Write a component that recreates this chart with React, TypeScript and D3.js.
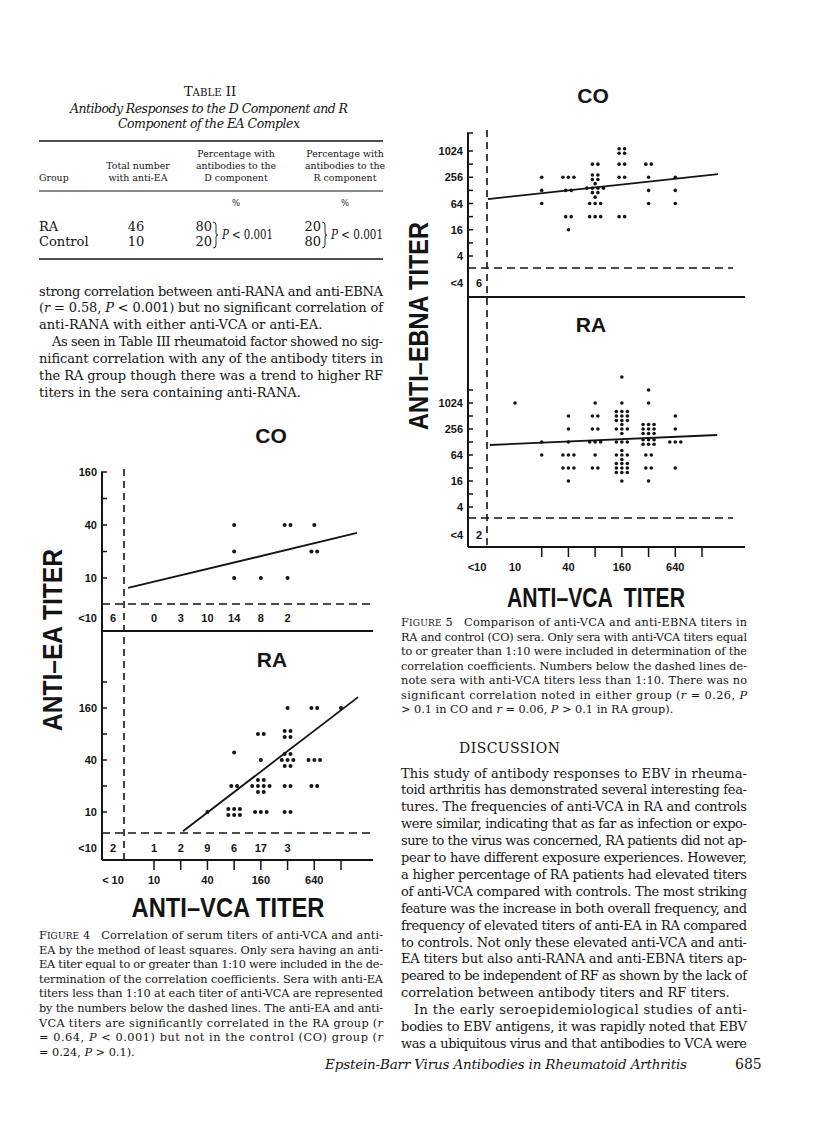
import React from "react";
import * as d3 from "d3";

type Group = [number, number, number[]];

// ================= DATA =================
// Table II
const tableGroups = ["RA", "Control"];
const tableTotals = [46, 10];
const tableDPct = [80, 20];
const tableRPct = [20, 80];

// Figure 4: anti-VCA (x) vs anti-EA (y)
const vcaTicks4 = [10, 20, 40, 80, 160, 320, 640, 1280];
const vcaTicks5 = [20, 40, 80, 160, 320, 640, 1280];
const vcaLabels = [10, 40, 160, 640];
const eaTicksCo = [10, 20, 40, 80, 160];
const eaTicksRa = [10, 20, 40, 80, 160, 320];
const eaLabels = [10, 40, 160];

// [anti-VCA titer, anti-EA titer, dots per row (top to bottom)]
const fig4Co: Group[] = [
  [80, 40, [1]], [80, 20, [1]], [80, 10, [1]],
  [160, 10, [1]],
  [320, 40, [2]], [320, 10, [1]],
  [640, 40, [1]], [640, 20, [2]],
];
const fig4Ra: Group[] = [
  [40, 10, [1]],
  [80, 49, [1]], [80, 20, [2]], [80, 10, [3, 3]],
  [160, 80, [2]], [160, 40, [1]], [160, 20, [2, 4, 2]], [160, 10, [3]],
  [320, 160, [1]], [320, 80, [2, 2]], [320, 40, [2, 3, 2]], [320, 20, [2]], [320, 10, [2]],
  [640, 160, [2]], [640, 40, [3]], [640, 20, [2]],
  [1280, 160, [1]],
];
const belowVca4: (number | null)[] = [null, 10, 20, 40, 80, 160, 320];
const fig4CoBelow = [6, 0, 3, 10, 14, 8, 2];
const fig4RaBelow = [2, 1, 2, 9, 6, 17, 3];
const fig4CoFit: [number, number][] = [[5.1, 7.7], [1940, 32.5]];
const fig4RaFit: [number, number][] = [[21.2, 6.0], [1995, 214]];

// Figure 5: anti-VCA (x) vs anti-EBNA (y)
const ebnaTicksCo = [4, 8, 16, 32, 64, 128, 256, 512, 1024];
const ebnaTicksRa = [4, 8, 16, 32, 64, 128, 256, 512, 1024, 2048];
const ebnaLabels = [4, 16, 64, 256, 1024];
const fig5Co: Group[] = [
  [20, 256, [1]], [20, 128, [1]], [20, 64, [1]],
  [40, 256, [3]], [40, 128, [2]], [40, 32, [2]], [40, 16, [1]],
  [80, 512, [2]], [80, 256, [2, 2]], [80, 128, [1, 4, 2, 1]], [80, 64, [3]], [80, 32, [3]],
  [160, 1024, [2, 2]], [160, 512, [2]], [160, 256, [2]], [160, 32, [2]],
  [320, 512, [2]], [320, 256, [1]], [320, 128, [1]], [320, 64, [1]],
  [640, 256, [1]], [640, 128, [1]], [640, 64, [1]],
];
const fig5Ra: Group[] = [
  [10, 1024, [1]],
  [20, 128, [1]], [20, 64, [1]],
  [40, 512, [1]], [40, 256, [1]], [40, 128, [1]], [40, 64, [3]], [40, 32, [3]], [40, 16, [1]],
  [80, 1024, [1]], [80, 512, [2]], [80, 256, [2]], [80, 128, [3]], [80, 64, [1]], [80, 32, [2]],
  [160, 4096, [1]], [160, 1024, [1]], [160, 512, [3, 3, 3]], [160, 256, [1, 3, 1]], [160, 128, [3]],
  [160, 64, [1, 3, 1]], [160, 32, [3, 3, 3]], [160, 16, [1]],
  [320, 2048, [1]], [320, 1024, [1]], [320, 256, [3, 3, 3]], [320, 128, [3, 3]], [320, 64, [2]],
  [320, 32, [2]], [320, 16, [1]],
  [640, 512, [1]], [640, 256, [1]], [640, 128, [3]], [640, 32, [1]],
];
const fig5CoBelow = 6;
const fig5RaBelow = 2;
const fig5CoFit: [number, number][] = [[4.96, 81], [1940, 303]];
const fig5RaFit: [number, number][] = [[5.2, 109], [1900, 186]];

// Text ("¶" = paragraph indent, "|" = last line of paragraph, *..* italic, ~..~ small caps)
const leftBody = [
  "strong correlation between anti-RANA and anti-EBNA",
  "(*r* = 0.58, *P* < 0.001) but no significant correlation of",
  "anti-RANA with either anti-VCA or anti-EA.|",
  "¶As seen in Table III rheumatoid factor showed no sig-",
  "nificant correlation with any of the antibody titers in",
  "the RA group though there was a trend to higher RF",
  "titers in the sera containing anti-RANA.|",
];
const fig4Caption = [
  "F~IGURE~ 4   Correlation of serum titers of anti-VCA and anti-",
  "EA by the method of least squares. Only sera having an anti-",
  "EA titer equal to or greater than 1:10 were included in the de-",
  "termination of the correlation coefficients. Sera with anti-EA",
  "titers less than 1:10 at each titer of anti-VCA are represented",
  "by the numbers below the dashed lines. The anti-EA and anti-",
  "VCA titers are significantly correlated in the RA group (*r*",
  "= 0.64, *P* < 0.001) but not in the control (CO) group (*r*",
  "= 0.24, *P* > 0.1).|",
];
const fig5Caption = [
  "F~IGURE~ 5   Comparison of anti-VCA and anti-EBNA titers in",
  "RA and control (CO) sera. Only sera with anti-VCA titers equal",
  "to or greater than 1:10 were included in determination of the",
  "correlation coefficients. Numbers below the dashed lines de-",
  "note sera with anti-VCA titers less than 1:10. There was no",
  "significant correlation noted in either group (*r* = 0.26, *P*",
  "> 0.1 in CO and *r* = 0.06, *P* > 0.1 in RA group).|",
];
const discussion = [
  "This study of antibody responses to EBV in rheuma-",
  "toid arthritis has demonstrated several interesting fea-",
  "tures. The frequencies of anti-VCA in RA and controls",
  "were similar, indicating that as far as infection or expo-",
  "sure to the virus was concerned, RA patients did not ap-",
  "pear to have different exposure experiences. However,",
  "a higher percentage of RA patients had elevated titers",
  "of anti-VCA compared with controls. The most striking",
  "feature was the increase in both overall frequency, and",
  "frequency of elevated titers of anti-EA in RA compared",
  "to controls. Not only these elevated anti-VCA and anti-",
  "EA titers but also anti-RANA and anti-EBNA titers ap-",
  "peared to be independent of RF as shown by the lack of",
  "correlation between antibody titers and RF titers.|",
  "¶In the early seroepidemiological studies of anti-",
  "bodies to EBV antigens, it was rapidly noted that EBV",
  "was a ubiquitous virus and that antibodies to VCA were",
];

// ================= STYLE =================
const INK = "#141414";
const SERIF = "'DejaVu Serif', serif";
const SANS = "'Liberation Sans', Arial, sans-serif";

// ================= HELPERS =================
function RichText({ x, y, text, size, width, anchor }: any) {
  const parts: { t: string; it: boolean; sc: boolean }[] = [];
  let it = false, sc = false, buf = "";
  const flush = () => { if (buf) parts.push({ t: buf, it, sc }); buf = ""; };
  for (const ch of text) {
    if (ch === "*") { flush(); it = !it; }
    else if (ch === "~") { flush(); sc = !sc; }
    else buf += ch;
  }
  flush();
  return (
    <text x={x} y={y} fontSize={size} fontFamily={SERIF} fill={INK} textAnchor={anchor}
      textLength={width} lengthAdjust={width ? "spacing" : undefined} style={{ whiteSpace: "pre" }}>
      {parts.map((p, i) => (
        <tspan key={i} fontStyle={p.it ? "italic" : "normal"} fontSize={p.sc ? size * 0.8 : size}>{p.t}</tspan>
      ))}
    </text>
  );
}

function Block({ lines, x, y, lh, width, size, indent = 13 }: any) {
  return (
    <g>
      {lines.map((ln: string, i: number) => {
        let s = ln, dx = 0, just = true;
        if (s.startsWith("¶")) { s = s.slice(1); dx = indent; }
        if (s.endsWith("|")) { s = s.slice(0, -1); just = false; }
        return <RichText key={i} x={x + dx} y={y + i * lh} text={s} size={size} width={just ? width - dx : undefined} />;
      })}
    </g>
  );
}

function Dots({ groups, xs, ys, r, dx, dy }: any) {
  const out: any[] = [];
  groups.forEach(([vx, vy, rows]: Group, gi: number) => {
    const cx = xs(vx), cy = ys(vy);
    rows.forEach((n, ri) => {
      const yy = cy + (ri - (rows.length - 1) / 2) * dy;
      for (let j = 0; j < n; j++) {
        const xx = cx + (j - (n - 1) / 2) * dx;
        out.push(<circle key={`${gi}-${ri}-${j}`} cx={xx} cy={yy} r={r} />);
      }
    });
  });
  return <g fill={INK}>{out}</g>;
}

function Fit({ pts, xs, ys }: any) {
  const line = d3.line<[number, number]>().x((d) => xs(d[0])).y((d) => ys(d[1]));
  return <path d={line(pts) || ""} fill="none" stroke={INK} strokeWidth={1.8} />;
}

function Brace({ x, y1, y2 }: any) {
  const m = (y1 + y2) / 2;
  const d = `M${x} ${y1} Q${x + 3} ${y1} ${x + 3} ${y1 + 3} L${x + 3} ${m - 2} Q${x + 3} ${m} ${x + 5} ${m} Q${x + 3} ${m} ${x + 3} ${m + 2} L${x + 3} ${y2 - 3} Q${x + 3} ${y2} ${x} ${y2}`;
  return <path d={d} fill="none" stroke={INK} strokeWidth={0.9} />;
}

// ================= TABLE =================
function Table() {
  const hdr = 9.4;
  return (
    <g fill={INK} fontFamily={SERIF}>
      <text x={210} y={96} textAnchor="middle" fontSize={13}>T<tspan fontSize={10.2}>ABLE</tspan> II</text>
      <text x={209} y={113} textAnchor="middle" fontSize={12.5} fontStyle="italic" textLength={278} lengthAdjust="spacing">
        Antibody Responses to the D Component and R
      </text>
      <text x={209} y={128} textAnchor="middle" fontSize={12.5} fontStyle="italic" textLength={182} lengthAdjust="spacing">
        Component of the EA Complex
      </text>
      <line x1={39} x2={383} y1={141} y2={141} stroke={INK} strokeWidth={1.4} />
      <text x={39} y={181} fontSize={hdr}>Group</text>
      <text x={138} y={169} fontSize={hdr} textAnchor="middle">Total number</text>
      <text x={138} y={181} fontSize={hdr} textAnchor="middle">with anti-EA</text>
      {[["D", 236], ["R", 345]].map(([c, cx]: any) => (
        <g key={c}>
          <text x={cx} y={157} fontSize={hdr} textAnchor="middle">Percentage with</text>
          <text x={cx} y={169} fontSize={hdr} textAnchor="middle">antibodies to the</text>
          <text x={cx} y={181} fontSize={hdr} textAnchor="middle">{c} component</text>
          <text x={cx} y={206} fontSize={8.5} textAnchor="middle">%</text>
        </g>
      ))}
      <line x1={39} x2={383} y1={191} y2={191} stroke={INK} strokeWidth={1.2} />
      {tableGroups.map((g, i) => {
        const y = 231 + i * 15;
        return (
          <g key={g} fontSize={13}>
            <text x={39} y={y}>{g}</text>
            <text x={136} y={y} textAnchor="middle">{tableTotals[i]}</text>
            <text x={212} y={y} textAnchor="end">{tableDPct[i]}</text>
            <text x={321} y={y} textAnchor="end">{tableRPct[i]}</text>
          </g>
        );
      })}
      <Brace x={213} y1={222} y2={248} />
      <Brace x={322} y1={222} y2={248} />
      <text x={222} y={239} fontSize={13} textLength={51} lengthAdjust="spacingAndGlyphs"><tspan fontStyle="italic">P</tspan> &lt; 0.001</text>
      <text x={331} y={239} fontSize={13} textLength={52} lengthAdjust="spacingAndGlyphs"><tspan fontStyle="italic">P</tspan> &lt; 0.001</text>
      <line x1={39} x2={383} y1={259} y2={259} stroke={INK} strokeWidth={1.4} />
    </g>
  );
}

// ================= FIGURE 4 =================
function Figure4() {
  const L = { axisX: 102, cutX: 124, lessX: 113, right: 373, coTop: 472, coDash: 604, coBelowY: 618,
    sep: 631, raDash: 833, raBelowY: 848, axisY: 860, labelRight: 97 };
  const xs = d3.scaleLog().base(2).domain([10, 1280]).range([154, 341]);
  const yCo = d3.scaleLog().base(2).domain([10, 160]).range([578, 472]);
  const yRa = d3.scaleLog().base(2).domain([10, 160]).range([812, 708]);
  const bx = (v: number | null) => (v === null ? L.lessX : xs(v));
  const tick = { stroke: INK, strokeWidth: 1.5 };
  return (
    <g>
      <line x1={L.axisX} x2={L.axisX} y1={L.coTop} y2={L.axisY} stroke={INK} strokeWidth={2} />
      <line x1={L.axisX} x2={L.right} y1={L.axisY} y2={L.axisY} stroke={INK} strokeWidth={2} />
      <line x1={L.axisX} x2={L.right} y1={L.sep} y2={L.sep} stroke={INK} strokeWidth={1.8} />
      <line x1={L.cutX} x2={L.cutX} y1={L.coTop - 3} y2={L.axisY} stroke={INK} strokeWidth={1.6} strokeDasharray="7 5" />
      <line x1={L.axisX} x2={L.right} y1={L.coDash} y2={L.coDash} stroke={INK} strokeWidth={1.5} strokeDasharray="8 5" />
      <line x1={L.axisX} x2={L.right} y1={L.raDash} y2={L.raDash} stroke={INK} strokeWidth={1.5} strokeDasharray="8 5" />
      {eaTicksCo.map((t) => <line key={"c" + t} x1={L.axisX - 1} x2={L.axisX + 5} y1={yCo(t)} y2={yCo(t)} {...tick} />)}
      {eaTicksRa.map((t) => <line key={"r" + t} x1={L.axisX - 1} x2={L.axisX + 5} y1={yRa(t)} y2={yRa(t)} {...tick} />)}
      {vcaTicks4.map((t) => <line key={"x" + t} x1={xs(t)} x2={xs(t)} y1={L.axisY} y2={L.axisY + 10} {...tick} />)}
      <g fontFamily={SANS} fontWeight="bold" fontSize={11} fill={INK}>
        {eaLabels.map((t) => <text key={"cl" + t} x={L.labelRight} y={yCo(t) + 4} textAnchor="end">{t}</text>)}
        {eaLabels.map((t) => <text key={"rl" + t} x={L.labelRight} y={yRa(t) + 4} textAnchor="end">{t}</text>)}
        <text x={L.labelRight} y={L.coBelowY + 4} textAnchor="end">&lt;10</text>
        <text x={L.labelRight} y={L.raBelowY + 4} textAnchor="end">&lt;10</text>
        {belowVca4.map((v, i) => <text key={"cb" + i} x={bx(v)} y={L.coBelowY + 4} textAnchor="middle">{fig4CoBelow[i]}</text>)}
        {belowVca4.map((v, i) => <text key={"rb" + i} x={bx(v)} y={L.raBelowY + 4} textAnchor="middle">{fig4RaBelow[i]}</text>)}
        <text x={L.lessX} y={884} textAnchor="middle">&lt; 10</text>
        {vcaLabels.map((t) => <text key={"xl" + t} x={xs(t)} y={884} textAnchor="middle">{t}</text>)}
      </g>
      <g fontFamily={SANS} fontWeight="bold" fill={INK}>
        <text x={271} y={443} fontSize={21} textAnchor="middle">CO</text>
        <text x={272} y={667} fontSize={21} textAnchor="middle">RA</text>
        <text x={228} y={917} fontSize={27} textAnchor="middle" textLength={193} lengthAdjust="spacingAndGlyphs">ANTI–VCA TITER</text>
        <text transform="translate(62,640) rotate(-90)" fontSize={27} textAnchor="middle" textLength={182} lengthAdjust="spacingAndGlyphs">ANTI–EA TITER</text>
      </g>
      <Fit pts={fig4CoFit} xs={xs} ys={yCo} />
      <Fit pts={fig4RaFit} xs={xs} ys={yRa} />
      <Dots groups={fig4Co} xs={xs} ys={yCo} r={2} dx={5.8} dy={6} />
      <Dots groups={fig4Ra} xs={xs} ys={yRa} r={2} dx={5.8} dy={6} />
    </g>
  );
}

// ================= FIGURE 5 =================
function Figure5() {
  const L = { axisX: 468, cutX: 487, lessX: 479, right: 745, top: 133, coDash: 268, coBelowY: 283,
    sep: 297, raDash: 518, raBelowY: 535, axisY: 547, labelRight: 463 };
  const xs = d3.scaleLog().base(2).domain([10, 1280]).range([515, 702]);
  const yCo = d3.scaleLog().base(2).domain([4, 1024]).range([256, 151]);
  const yRa = d3.scaleLog().base(2).domain([4, 1024]).range([507, 403]);
  const tick = { stroke: INK, strokeWidth: 1.5 };
  return (
    <g>
      <line x1={L.axisX} x2={L.axisX} y1={L.top} y2={L.axisY} stroke={INK} strokeWidth={2} />
      <line x1={L.axisX - 1} x2={L.axisX + 5} y1={L.top} y2={L.top} {...tick} />
      <line x1={L.axisX} x2={L.right} y1={L.axisY} y2={L.axisY} stroke={INK} strokeWidth={2} />
      <line x1={L.axisX} x2={L.right} y1={L.sep} y2={L.sep} stroke={INK} strokeWidth={1.8} />
      <line x1={L.cutX} x2={L.cutX} y1={L.top - 3} y2={L.axisY} stroke={INK} strokeWidth={1.6} strokeDasharray="7 5" />
      <line x1={L.axisX} x2={L.right - 12} y1={L.coDash} y2={L.coDash} stroke={INK} strokeWidth={1.5} strokeDasharray="8 5" />
      <line x1={L.axisX} x2={L.right - 12} y1={L.raDash} y2={L.raDash} stroke={INK} strokeWidth={1.5} strokeDasharray="8 5" />
      {ebnaTicksCo.map((t) => <line key={"c" + t} x1={L.axisX - 1} x2={L.axisX + 5} y1={yCo(t)} y2={yCo(t)} {...tick} />)}
      {ebnaTicksRa.map((t) => <line key={"r" + t} x1={L.axisX - 1} x2={L.axisX + 5} y1={yRa(t)} y2={yRa(t)} {...tick} />)}
      {vcaTicks5.map((t) => <line key={"x" + t} x1={xs(t)} x2={xs(t)} y1={L.axisY} y2={L.axisY + 10} {...tick} />)}
      <g fontFamily={SANS} fontWeight="bold" fontSize={11} fill={INK}>
        {ebnaLabels.map((t) => <text key={"cl" + t} x={L.labelRight} y={yCo(t) + 4} textAnchor="end">{t}</text>)}
        {ebnaLabels.map((t) => <text key={"rl" + t} x={L.labelRight} y={yRa(t) + 4} textAnchor="end">{t}</text>)}
        <text x={L.labelRight} y={L.coBelowY + 4} textAnchor="end">&lt;4</text>
        <text x={L.labelRight} y={L.raBelowY + 4} textAnchor="end">&lt;4</text>
        <text x={L.lessX} y={L.coBelowY + 4} textAnchor="middle">{fig5CoBelow}</text>
        <text x={L.lessX} y={L.raBelowY + 4} textAnchor="middle">{fig5RaBelow}</text>
        <text x={477} y={571} textAnchor="middle">&lt;10</text>
        {vcaLabels.map((t) => <text key={"xl" + t} x={xs(t)} y={571} textAnchor="middle">{t}</text>)}
      </g>
      <g fontFamily={SANS} fontWeight="bold" fill={INK}>
        <text x={593} y={103} fontSize={21} textAnchor="middle">CO</text>
        <text x={591} y={332} fontSize={21} textAnchor="middle">RA</text>
        <text x={596} y={607} fontSize={27} textAnchor="middle" textLength={178} lengthAdjust="spacingAndGlyphs" style={{ whiteSpace: "pre" }}>ANTI–VCA  TITER</text>
        <text transform="translate(428,326) rotate(-90)" fontSize={27} textAnchor="middle" textLength={208} lengthAdjust="spacingAndGlyphs">ANTI–EBNA TITER</text>
      </g>
      <Fit pts={fig5CoFit} xs={xs} ys={yCo} />
      <Fit pts={fig5RaFit} xs={xs} ys={yRa} />
      <Dots groups={fig5Co} xs={xs} ys={yCo} r={1.8} dx={5.5} dy={4.5} />
      <Dots groups={fig5Ra} xs={xs} ys={yRa} r={1.8} dx={5.5} dy={4.5} />
    </g>
  );
}

// ================= APP =================
export default function App() {
  return (
    <svg width={816} height={1140} viewBox="0 0 816 1140" style={{ position: "absolute", left: 0, top: 0, display: "block" }}>
      <rect x={0} y={0} width={816} height={1140} fill="#fff" />
      <Table />
      <Block lines={leftBody} x={39} y={295.5} lh={16.9} width={344} size={13} indent={13} />
      <Figure4 />
      <Block lines={fig4Caption} x={39} y={939} lh={14.6} width={344} size={11.3} indent={0} />
      <Figure5 />
      <Block lines={fig5Caption} x={401} y={626} lh={14.5} width={346} size={11.3} indent={0} />
      <text x={459} y={753} fontFamily={SERIF} fontSize={14} fill={INK} textLength={101} lengthAdjust="spacing">DISCUSSION</text>
      <Block lines={discussion} x={401} y={777.5} lh={16.9} width={346} size={13} indent={13} />
      <text x={325} y={1069} fontFamily={SERIF} fontStyle="italic" fontSize={13.5} fill={INK} textLength={362} lengthAdjust="spacing">
        Epstein-Barr Virus Antibodies in Rheumatoid Arthritis
      </text>
      <text x={735} y={1069} fontFamily={SERIF} fontSize={14} fill={INK}>685</text>
    </svg>
  );
}
